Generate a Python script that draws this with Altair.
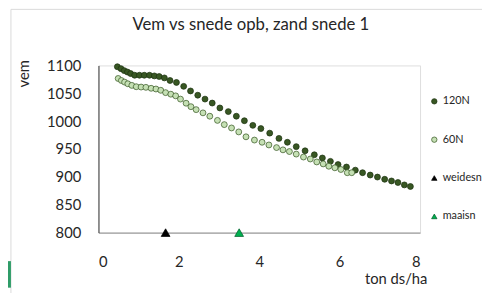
import altair as alt
import pandas as pd

# 120N series (ton ds/ha, vem)
x_120 = [0.47, 0.56, 0.64, 0.72, 0.80, 0.90, 1.02, 1.14, 1.27, 1.39, 1.51, 1.64, 1.78, 1.94,
         2.12, 2.29, 2.47, 2.65, 2.83, 3.02, 3.23, 3.43, 3.63, 3.84, 4.04, 4.26, 4.49, 4.70,
         4.92, 5.14, 5.37, 5.57, 5.77, 5.96, 6.17, 6.39, 6.57, 6.76, 6.94, 7.12, 7.29, 7.45,
         7.61, 7.76]
y_120 = [1097.7, 1094.2, 1090.7, 1088.2, 1085.4, 1082.4, 1082.4, 1082.4, 1082.4, 1081.2, 1080.1,
         1077.6, 1073.0, 1069.5, 1062.5, 1054.2, 1046.6, 1039.6, 1032.5, 1023.7, 1017.2, 1008.9,
         1000.8, 992.5, 986.7, 978.5, 969.1, 962.1, 954.3, 946.8, 939.7, 933.9, 927.9, 922.1,
         917.7, 912.1, 907.5, 903.3, 899.7, 895.7, 892.7, 889.9, 885.6, 882.8]

# 60N series
x_60 = [0.49, 0.57, 0.65, 0.73, 0.83, 0.94, 1.06, 1.18, 1.31, 1.43, 1.55, 1.67, 1.80, 1.92,
        2.04, 2.18, 2.30, 2.43, 2.60, 2.77, 2.96, 3.13, 3.31, 3.49, 3.67, 3.88, 4.07, 4.24,
        4.43, 4.59, 4.75, 4.92, 5.10, 5.27, 5.43, 5.59, 5.73, 5.88, 6.03, 6.19, 6.30]
y_60 = [1076.6, 1073.0, 1070.1, 1067.1, 1064.2, 1061.8, 1061.2, 1060.7, 1059.0, 1057.7, 1055.4,
        1051.2, 1048.4, 1045.4, 1039.6, 1032.2, 1026.0, 1020.7, 1014.9, 1008.9, 1001.4, 993.8,
        987.8, 980.7, 971.9, 966.1, 962.1, 957.3, 952.6, 948.5, 945.5, 940.9, 935.6, 932.1,
        926.8, 923.3, 919.1, 916.3, 913.3, 907.5, 907.5]

# markers on the axis
marker_names = ["weidesn", "maaisn"]
marker_x = [1.67, 3.50]
marker_y = [800, 800]

series_order = ["120N", "60N", "weidesn", "maaisn"]
fills = ["#385723", "#c5e0b4", "#000000", "#00b050"]
strokes = ["#1c3310", "#3b5a28", "#000000", "#00602c"]
shapes = ["circle", "circle", "triangle-up", "triangle-up"]

title_text = "Vem vs snede opb, zand snede 1"

pts = pd.DataFrame(
    {"x": x_120 + x_60,
     "y": y_120 + y_60,
     "series": ["120N"] * len(x_120) + ["60N"] * len(x_60)}
)
marks = pd.DataFrame({"x": marker_x, "y": marker_y, "series": marker_names})

FONT = "Lato"

leg = alt.Legend(title=None, orient="none", legendX=336, legendY=31, rowPadding=27,
                 labelFontSize=11, labelFont=FONT, labelColor="#262626", symbolSize=30,
                 symbolStrokeWidth=0.75, labelOffset=3)

xs = alt.X("x:Q", scale=alt.Scale(domain=[0, 8], nice=False),
           axis=alt.Axis(values=[0, 2, 4, 6, 8], title="ton ds/ha", grid=False, ticks=False,
                         domainColor="#8a8a8a", labelFont=FONT, labelFontSize=15,
                         labelColor="#262626", labelPadding=22, titleFont=FONT,
                         titleFontSize=15, titleFontWeight="normal", titleColor="#262626",
                         titleAnchor="end", titleAlign="right", titleX=334, titleY=47,
                         titleBaseline="middle"))
ys = alt.Y("y:Q", scale=alt.Scale(domain=[800, 1100], nice=False),
           axis=alt.Axis(values=[800, 850, 900, 950, 1000, 1050, 1100], format="d",
                         title="vem", grid=False, ticks=False, domainColor="#333333",
                         labelFont=FONT, labelFontSize=15, labelColor="#262626",
                         labelPadding=18, titleFont=FONT, titleFontSize=15,
                         titleFontWeight="normal", titleColor="#262626", titleX=-76,
                         titleY=8, titleAlign="center", titleBaseline="middle"))

fill_enc = alt.Fill("series:N", scale=alt.Scale(domain=series_order, range=fills), legend=leg)
stroke_enc = alt.Stroke("series:N", scale=alt.Scale(domain=series_order, range=strokes), legend=leg)
shape_enc = alt.Shape("series:N", scale=alt.Scale(domain=series_order, range=shapes), legend=leg)

points = alt.Chart(pts).mark_point(filled=True, size=36, strokeWidth=0.75, opacity=1).encode(
    x=xs, y=ys, fill=fill_enc, stroke=stroke_enc, shape=shape_enc
)
tri = alt.Chart(marks).mark_point(filled=True, size=80, strokeWidth=0.75, opacity=1).encode(
    x=xs, y=ys, fill=fill_enc, stroke=stroke_enc, shape=shape_enc
)

one = pd.DataFrame({"a": [0]})

border = alt.Chart(one).mark_rect(
    fill=None, stroke="#d9d9d9", strokeWidth=1
).encode(x=alt.value(-89), x2=alt.value(600), y=alt.value(-57), y2=alt.value(400))

green_box = alt.Chart(one).mark_rect(
    fill="#2f9c68", stroke=None
).encode(x=alt.value(-100), x2=alt.value(-89), y=alt.value(199), y2=alt.value(226))

title = alt.Chart(one).mark_text(
    font=FONT, fontSize=17, color="#262626", align="center", baseline="middle"
).encode(x=alt.value(155), y=alt.value(-41), text=alt.value(title_text))

chart = alt.layer(border, green_box, points, tri, title).properties(
    width=327, height=170,
    autosize=alt.AutoSizeParams(type="none"),
    padding={"left": 92, "top": 56, "right": 63, "bottom": 59},
).configure_view(stroke=None).configure(background="white")

chart.save("out.html", embed_options={"renderer": "svg", "actions": False})
